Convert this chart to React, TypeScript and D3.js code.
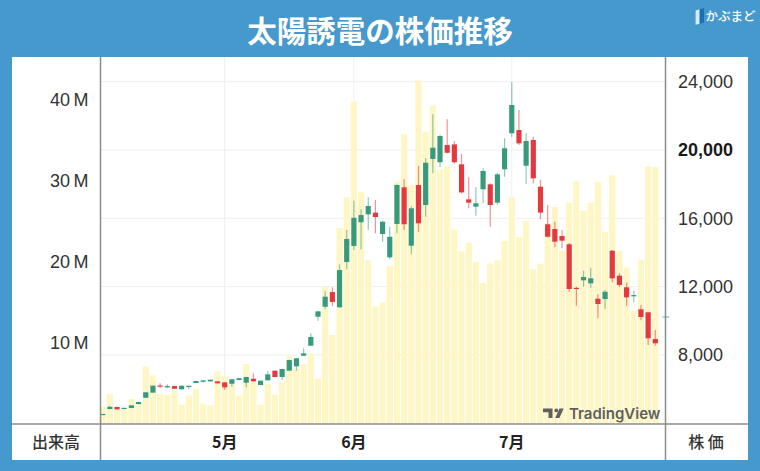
import React, { useRef, useEffect } from "react";
import * as d3 from "d3";

// trading days shown (Apr 7 - Jul 30)
const dates = [
    "2026-04-07", "2026-04-08", "2026-04-09", "2026-04-10", "2026-04-13", "2026-04-14", "2026-04-15", "2026-04-16", "2026-04-17",
    "2026-04-20", "2026-04-21", "2026-04-22", "2026-04-23", "2026-04-24", "2026-04-27", "2026-04-28", "2026-04-30",
    "2026-05-01", "2026-05-07", "2026-05-08", "2026-05-11", "2026-05-12", "2026-05-13", "2026-05-14", "2026-05-15",
    "2026-05-18", "2026-05-19", "2026-05-20", "2026-05-21", "2026-05-22", "2026-05-25", "2026-05-26", "2026-05-27", "2026-05-28", "2026-05-29",
    "2026-06-01", "2026-06-02", "2026-06-03", "2026-06-04", "2026-06-05", "2026-06-08", "2026-06-09", "2026-06-10", "2026-06-11", "2026-06-12",
    "2026-06-15", "2026-06-16", "2026-06-17", "2026-06-18", "2026-06-19", "2026-06-22", "2026-06-23", "2026-06-24", "2026-06-25", "2026-06-26",
    "2026-06-29", "2026-06-30",
    "2026-07-01", "2026-07-02", "2026-07-03", "2026-07-06", "2026-07-07", "2026-07-08", "2026-07-09", "2026-07-10",
    "2026-07-13", "2026-07-14", "2026-07-15", "2026-07-16", "2026-07-17", "2026-07-21", "2026-07-22", "2026-07-23", "2026-07-24",
    "2026-07-27", "2026-07-28", "2026-07-29", "2026-07-30",
];

const open = [
    4520, 4830, 4950, 4830, 4890, 5120, 5490, 5790, 6210, 6100, 6175, 5985, 6170, 6355, 6430, 6450, 6450,
    6390, 6310, 6530, 6370, 6605, 6236, 6510, 7075, 6705, 7075, 7330, 7950, 8540, 10236, 10820, 11680, 10790,
    13440, 14380, 15765, 16230, 16330, 15080, 13715, 15670, 17815, 14395, 17950, 16780, 19475, 19280, 20290, 20330,
    19160, 17110, 16680, 17700, 17990, 16915,
    18870, 20980, 21170, 19080, 20585, 17850, 15650, 15375, 14965, 14480, 11930, 12370, 12190, 11290, 11275, 14100,
    12640, 11960, 11430, 10670, 10495, 8930,
];
const high = [
    4560, 4990, 4960, 4920, 5060, 5260, 5830, 6210, 6335, 6280, 6190, 6210, 6200, 6480, 6520, 6560, 6460,
    6400, 6605, 6640, 6720, 6920, 6500, 7055, 7090, 7190, 7720, 7820, 8385, 9265, 10570, 11760, 11960, 13300,
    15310, 17030, 16530, 17230, 17070, 15850, 15510, 18000, 18300, 16700, 19060, 19510, 22090, 20900, 21800, 20530,
    19765, 18400, 17815, 18930, 18050, 18650,
    20685, 23980, 22340, 20980, 20780, 18245, 16780, 15800, 15315, 14560, 11995, 12930, 13105, 11550, 11800, 14150,
    12780, 12230, 11760, 10920, 10520, 9455,
];
const low = [
    4500, 4800, 4800, 4820, 4880, 5110, 5480, 5780, 6060, 6060, 6010, 5975, 5985, 6340, 6370, 6440, 6320,
    5945, 6135, 6520, 6100, 6430, 6220, 6500, 6690, 6530, 7060, 7075, 7930, 8520, 10000, 10670, 10860, 10750,
    13010, 14140, 14180, 15310, 15120, 14630, 13600, 15120, 15310, 13890, 15210, 16090, 18635, 19020, 19800, 19200,
    17450, 16585, 16150, 16880, 15505, 16800,
    18435, 20780, 20300, 18010, 18050, 15940, 14880, 14300, 14240, 11700, 10880, 11995, 11935, 10140, 10690, 12250,
    11960, 10880, 11080, 10025, 8580, 8540,
];
const close = [
    4540, 4965, 4810, 4900, 5045, 5240, 5810, 6195, 6190, 6175, 6020, 6195, 6190, 6470, 6510, 6545, 6335,
    6100, 6570, 6630, 6705, 6450, 6490, 6860, 6705, 7175, 7700, 7800, 8090, 9050, 10550, 11410, 11100, 12970,
    14790, 16030, 16190, 16720, 16075, 15800, 14920, 17950, 15650, 16585, 15705, 19255, 20135, 20820, 19840, 19280,
    17520, 16915, 16880, 18770, 16780, 18575,
    20100, 22635, 20390, 20530, 18340, 16330, 14920, 14630, 14690, 11860, 11880, 12560, 12485, 10980, 11700, 12485,
    12095, 11370, 11505, 10220, 8970, 8680,
];
// 出来高 (百万株)
const volume = [
    2.1, 3.7, 1.8, 1.8, 3.1, 2.6, 7.1, 6.0, 3.7, 3.6, 4.1, 2.4, 3.5, 4.3, 2.5, 2.3, 6.5,
    5.9, 4.9, 3.5, 7.4, 5.2, 2.4, 5.0, 3.6, 5.2, 8.4, 6.8, 7.4, 8.7, 5.6, 16.9, 11.0, 24.2,
    28.0, 39.8, 28.6, 20.2, 14.5, 15.0, 19.5, 29.9, 35.8, 29.5, 42.4, 36.1, 39.3, 31.4, 31.8, 24.0,
    21.3, 22.4, 20.0, 17.4, 19.8, 20.2,
    22.6, 28.0, 23.1, 25.1, 19.1, 19.8, 24.8, 26.8, 21.4, 27.3, 30.0, 26.3, 27.3, 29.9, 23.7, 30.7,
    21.4, 19.3, 14.0, 20.3, 31.8, 31.7,
];

const priceTicks = [8000, 12000, 16000, 20000, 24000];
const boldPrice = 20000;
const volumeTicks = [10, 20, 30, 40];
const markerPrice = 10220;

export default function App() {
    const ref = useRef<SVGSVGElement | null>(null);

    useEffect(() => {
        const width = 760;
        const height = 471;
        const panel = { left: 12, right: 748, top: 57, bottom: 460 };
        const plot = { left: 100.5, right: 665.5, top: 57, bottom: 424 };
        const up = "#379a7c";
        const down = "#e3393f";
        const numFont = "'Liberation Sans', Arial, sans-serif";
        const jpFont = "'Noto Sans CJK JP', sans-serif";

        d3.select(ref.current).selectAll("*").remove();

        const svg = d3
            .select(ref.current)
            .attr("width", width)
            .attr("height", height)
            .style("display", "block");

        svg.append("rect").attr("width", width).attr("height", height).attr("fill", "#4699cc");

        svg.append("text")
            .attr("x", 380)
            .attr("y", 42)
            .attr("text-anchor", "middle")
            .attr("fill", "#fff")
            .attr("font-family", jpFont)
            .attr("font-weight", 700)
            .attr("font-size", 29.5)
            .text("太陽誘電の株価推移");

        // site logo
        const logo = svg.append("g");
        logo.append("path").attr("d", "M695.5,10.5 L704,8 L704,22.5 L695.5,25 Z").attr("fill", "#1c6fb3");
        logo.append("path").attr("d", "M695.5,10.5 L699.5,9.3 L699.5,23.8 L695.5,25 Z").attr("fill", "#d4ecfa");
        logo.append("text")
            .attr("x", 705.5)
            .attr("y", 21)
            .attr("fill", "#fff")
            .attr("font-family", jpFont)
            .attr("font-weight", 500)
            .attr("font-size", 12.5)
            .text("かぶまど");

        svg.append("rect")
            .attr("x", panel.left)
            .attr("y", panel.top)
            .attr("width", panel.right - panel.left)
            .attr("height", panel.bottom - panel.top)
            .attr("fill", "#fff");

        const idx = d3.range(dates.length);
        const x = d3.scaleBand<number>()
            .domain(idx)
            .range([99.1, 658.9])
            .paddingInner(0.14)
            .paddingOuter(0.07);
        const step = x.step();
        const cx = (i: number) => (x(i) ?? 0) + x.bandwidth() / 2;

        const y = d3.scaleLinear().domain([3953, 25447]).range([plot.bottom, plot.top]);
        const yVol = d3.scaleLinear().domain([0, 45.3]).range([plot.bottom, plot.top]);

        const monthStarts = idx.filter((i) => i > 0 && dates[i].slice(5, 7) !== dates[i - 1].slice(5, 7));

        svg.append("defs")
            .append("clipPath")
            .attr("id", "plot-clip")
            .append("rect")
            .attr("x", plot.left)
            .attr("y", plot.top)
            .attr("width", plot.right - plot.left)
            .attr("height", plot.bottom - plot.top);

        const chart = svg.append("g").attr("clip-path", "url(#plot-clip)");

        // grid
        chart.selectAll("line.hgrid")
            .data(priceTicks)
            .enter()
            .append("line")
            .attr("x1", plot.left)
            .attr("x2", plot.right)
            .attr("y1", (d) => y(d))
            .attr("y2", (d) => y(d))
            .attr("stroke", "#efefef");
        chart.selectAll("line.vgrid")
            .data(monthStarts)
            .enter()
            .append("line")
            .attr("x1", (d) => cx(d))
            .attr("x2", (d) => cx(d))
            .attr("y1", plot.top)
            .attr("y2", plot.bottom)
            .attr("stroke", "#efefef");

        // volume
        chart.selectAll("rect.vol")
            .data(idx)
            .enter()
            .append("rect")
            .attr("x", (i) => x(i) ?? 0)
            .attr("width", x.bandwidth())
            .attr("y", (i) => yVol(volume[i]))
            .attr("height", (i) => plot.bottom - yVol(volume[i]))
            .attr("fill", "#fef6c5");

        // TradingView watermark
        const tv = chart.append("g").attr("fill", "#5f5f5f");
        tv.append("path").attr("d", "M543,408.5 h9.5 v9.5 h-4 v-5.8 h-5.5 Z");
        tv.append("circle").attr("cx", 556.3).attr("cy", 410.4).attr("r", 1.9);
        tv.append("path").attr("d", "M559.5,408.5 h4.2 l-4.3,9.5 h-4.2 Z");
        tv.append("text")
            .attr("x", 569)
            .attr("y", 418.5)
            .attr("font-family", "Inter, 'Noto Sans', sans-serif")
            .attr("font-weight", 600)
            .attr("font-size", 15)
            .text("TradingView");

        // candles
        const bodyW = step * 0.72;
        const candles = chart.selectAll("g.candle").data(idx).enter().append("g");
        candles.append("line")
            .attr("x1", (i) => cx(i))
            .attr("x2", (i) => cx(i))
            .attr("y1", (i) => y(high[i]))
            .attr("y2", (i) => y(low[i]))
            .attr("stroke", (i) => (close[i] >= open[i] ? up : down))
            .attr("stroke-opacity", 0.55)
            .attr("stroke-width", 1.2);
        candles.append("rect")
            .attr("x", (i) => cx(i) - bodyW / 2)
            .attr("width", bodyW)
            .attr("y", (i) => y(Math.max(open[i], close[i])))
            .attr("height", (i) => Math.max(1.2, Math.abs(y(open[i]) - y(close[i]))))
            .attr("fill", (i) => (close[i] >= open[i] ? up : down));

        // frame lines
        const frame = svg.append("g").attr("stroke", "#8c8c8c").attr("stroke-width", 1.5);
        frame.append("line").attr("x1", panel.left).attr("x2", panel.right).attr("y1", plot.bottom).attr("y2", plot.bottom);
        frame.append("line").attr("x1", plot.left).attr("x2", plot.left).attr("y1", panel.top).attr("y2", panel.bottom);
        frame.append("line").attr("x1", plot.right).attr("x2", plot.right).attr("y1", panel.top).attr("y2", panel.bottom);

        svg.append("line")
            .attr("x1", plot.right - 3)
            .attr("x2", plot.right + 4)
            .attr("y1", y(markerPrice))
            .attr("y2", y(markerPrice))
            .attr("stroke", up)
            .attr("stroke-opacity", 0.7);

        // right price axis
        svg.selectAll("text.price")
            .data(priceTicks)
            .enter()
            .append("text")
            .attr("x", 678)
            .attr("y", (d) => y(d))
            .attr("dy", "0.36em")
            .attr("fill", (d) => (d === boldPrice ? "#1a1a1a" : "#333"))
            .attr("font-weight", (d) => (d === boldPrice ? 700 : 400))
            .attr("font-family", numFont)
            .attr("font-size", 18)
            .text((d) => d3.format(",")(d));

        // left volume axis
        svg.selectAll("text.vol")
            .data(volumeTicks)
            .enter()
            .append("text")
            .attr("x", 88.5)
            .attr("y", (d) => yVol(d))
            .attr("dy", "0.36em")
            .attr("text-anchor", "end")
            .attr("fill", "#333")
            .attr("font-family", numFont)
            .attr("font-size", 18)
            .text((d) => `${d}\u2009M`);

        // bottom band
        const bandY = (plot.bottom + panel.bottom) / 2;
        svg.append("text")
            .attr("x", 56)
            .attr("y", bandY)
            .attr("dy", "0.36em")
            .attr("text-anchor", "middle")
            .attr("fill", "#333")
            .attr("font-family", jpFont)
            .attr("font-weight", 500)
            .attr("font-size", 16)
            .text("出来高");
        svg.append("text")
            .attr("x", 706)
            .attr("y", bandY)
            .attr("dy", "0.36em")
            .attr("text-anchor", "middle")
            .attr("fill", "#333")
            .attr("font-family", jpFont)
            .attr("font-weight", 500)
            .attr("font-size", 16)
            .text("株 価");
        svg.selectAll("text.month")
            .data(monthStarts)
            .enter()
            .append("text")
            .attr("x", (i) => cx(i))
            .attr("y", bandY)
            .attr("dy", "0.36em")
            .attr("text-anchor", "middle")
            .attr("fill", "#222")
            .attr("font-family", jpFont)
            .attr("font-weight", 700)
            .attr("font-size", 16)
            .text((i) => `${+dates[i].slice(5, 7)}月`);
    }, []);

    return (
        <div style={{ position: "absolute", left: 0, top: 0 }}>
            <svg ref={ref}></svg>
        </div>
    );
}
